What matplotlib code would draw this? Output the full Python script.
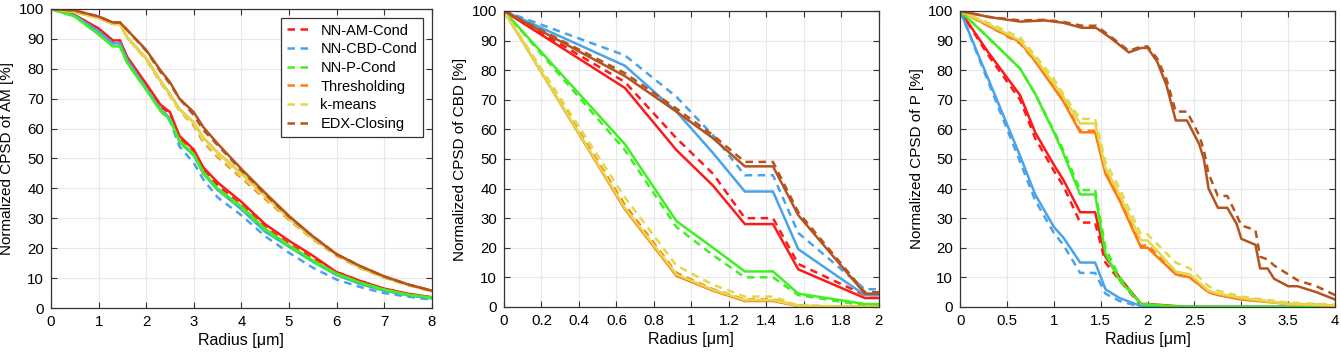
import matplotlib
matplotlib.use("Agg")
import matplotlib.pyplot as plt

plt.rcParams['font.family'] = ['Liberation Sans', 'DejaVu Sans']
plt.rcParams['font.size'] = 10.5

methods = ["NN-AM-Cond", "NN-CBD-Cond", "NN-P-Cond", "Thresholding", "k-means", "EDX-Closing"]
colors = ["#ff1a1a", "#4aa3ea", "#3ff022", "#ff7a12", "#e3d84a", "#b5531f"]

# ---- AM panel ----
am_x = [0, 0.5, 1, 1.3, 1.45, 1.6, 2, 2.3, 2.5, 2.7, 3, 3.2, 3.5, 4, 4.5, 5, 5.5, 6, 6.5, 7, 7.5, 8]
am_solid = [
    [100, 98, 93.5, 89.5, 89.5, 84, 75, 68, 65.5, 57.5, 53, 47, 42, 35.5, 28, 22.5, 17.5, 12, 9, 6.5, 4.8, 3.6],
    [100, 97.8, 92.5, 88.5, 88.5, 83, 73.5, 66.5, 63.5, 55.5, 51, 45, 39.5, 33, 25.5, 20.5, 15.5, 11, 8, 5.8, 4.2, 3.2],
    [100, 97.5, 91.5, 87.5, 87.5, 82, 73, 66, 63, 56, 51.5, 45.5, 40, 34, 26.5, 21, 16, 11.5, 8.5, 6.2, 4.5, 3.5],
    [100, 99, 97, 95, 95, 90.5, 83.5, 76, 71.5, 66.5, 62, 57, 52, 45, 37.5, 30, 23.5, 18, 13.5, 10.3, 7.8, 5.7],
    [100, 99, 97, 95, 95, 90.5, 83.5, 76, 71.5, 66.5, 62, 57, 52, 45, 37.5, 30, 23.5, 18, 13.5, 10.3, 7.8, 5.7],
    [100, 99.5, 97.5, 95.5, 95.5, 93, 86.3, 79.5, 75.5, 70, 65.5, 60.5, 55, 46.5, 38.5, 30.8, 24, 18, 14, 10.6, 7.9, 5.8],
]
am_dashed = [
    [100, 97.8, 93, 89, 89, 83.5, 74.5, 67.5, 65, 57, 52.5, 46, 41, 34.5, 27, 21.5, 16.5, 12, 9, 6.3, 4.6, 3.5],
    [100, 97.8, 92.5, 88.5, 88.5, 83, 73.5, 66, 62.5, 54, 48.5, 43, 37, 31, 24, 18.5, 13.5, 9.5, 7, 5, 3.8, 2.8],
    [100, 97.5, 91.5, 87.5, 87.5, 82, 73, 66, 63, 55.5, 51, 45, 39.5, 33.5, 26, 20.5, 15.5, 11.2, 8.2, 6, 4.4, 3.4],
    [100, 99, 97, 95, 95, 90.5, 83, 75.5, 71, 66, 61, 55.5, 50.5, 43.5, 36.5, 29.5, 23, 17.5, 13.3, 10.2, 7.7, 5.6],
    [100, 99, 97, 95, 95, 90.5, 83, 75.5, 71, 66, 61.5, 56, 51, 44, 37, 29.8, 23.2, 17.8, 13.4, 10.2, 7.7, 5.6],
    [100, 99.5, 97.5, 95.5, 95.5, 93, 86, 79, 75, 70, 64.5, 59.5, 54.5, 46, 38, 30.5, 24, 18, 14, 10.5, 7.9, 5.8],
]

# ---- CBD panel ----
cbd_x = [0, 0.645, 0.92, 1.115, 1.285, 1.435, 1.57, 1.925, 2.0]
cbd_solid = [
    [100, 74, 53, 41, 28, 28, 12.7, 3, 3],
    [100, 81.5, 66, 52, 39, 39, 19.5, 4, 4],
    [100, 55, 29, 20, 12, 12, 4.5, 1, 1],
    [100, 33, 10.5, 5.5, 2, 2, 0.3, 0, 0],
    [100, 33.5, 11, 5.8, 2.3, 2.3, 0.4, 0, 0],
    [100, 78, 66, 57, 47.5, 47.5, 31, 4.5, 4.5],
]
cbd_dashed = [
    [100, 76, 57, 45, 30, 30, 14.5, 4, 4],
    [100, 85, 71, 58, 44.5, 44.5, 25, 6, 6],
    [100, 53, 27, 17.5, 10, 10, 4, 0.5, 0.5],
    [100, 34.5, 11.5, 6, 2.5, 2.5, 0.5, 0, 0],
    [100, 37, 14, 7.5, 3.5, 3.5, 0.5, 0, 0],
    [100, 79, 67, 58, 49, 49, 32, 5, 5],
]

# ---- P panel ----
p_x = [0, 0.3, 0.64, 0.8, 1.0, 1.1, 1.28, 1.44, 1.55, 1.7, 1.93, 2.0, 2.3, 2.45, 2.65, 2.75, 3.0, 3.5, 4.0]
p_solid = [
    [100, 86, 71.5, 59, 48, 43, 32, 32, 17, 10, 1, 1, 0.3, 0, 0, 0, 0, 0, 0],
    [100, 77, 51, 38, 27, 23.5, 15, 15, 6, 3, 0.3, 0, 0, 0, 0, 0, 0, 0, 0],
    [100, 91, 80.5, 72, 59, 52, 38, 38, 18, 9, 1, 0.8, 0.2, 0, 0, 0, 0, 0, 0],
    [100, 95, 89.5, 83, 74, 69.5, 59, 59, 45, 36, 20, 20, 11, 10, 5, 4, 2.5, 1, 0.5],
    [100, 95.5, 90, 84, 75.5, 71, 62, 62, 47, 38, 22.5, 22.5, 12, 11, 5.5, 4.5, 3, 1, 0.5],
]
p_dashed = [
    [100, 85, 70, 57, 46, 41, 28.5, 28.5, 15, 9, 0.5, 0.5, 0, 0, 0, 0, 0, 0, 0],
    [100, 76, 49, 36, 25, 21, 11.5, 11.5, 4.5, 2, 0, 0, 0, 0, 0, 0, 0, 0, 0],
    [100, 91, 80.5, 72, 59.5, 53, 39.5, 39.5, 20, 10, 1, 0.8, 0, 0, 0, 0, 0, 0, 0],
    [100, 95, 89, 83, 74.5, 70, 59.5, 59.5, 46, 37, 20.5, 21, 11, 10, 5, 4.2, 3, 1, 0.5],
    [100, 96, 91, 85, 77, 72, 63.5, 63.5, 49, 40, 24.5, 24.5, 15, 13, 7, 5.5, 3.5, 1.5, 0.8],
]
# EDX-Closing in the P panel has its own radius steps
p_edx_x = [0, 0.3, 0.64, 0.9, 1.1, 1.3, 1.45, 1.6, 1.8, 1.93, 2.0, 2.1, 2.2, 2.3, 2.42, 2.55, 2.6,
           2.65, 2.75, 2.85, 2.95, 3.0, 3.15, 3.2, 3.28, 3.35, 3.5, 3.6, 3.8, 4.0]
p_edx_solid = [100, 98, 96.4, 96.8, 96, 94.3, 94.3, 91, 86, 87.5, 87.5, 83, 75, 63, 63, 55, 50,
               40, 33.5, 33.5, 28, 23, 21, 13, 13, 9.5, 7, 7, 5, 2.5]
p_edx_dashed = [100, 98, 96.8, 97, 96.3, 95, 95, 91.5, 86.5, 88, 88, 84, 77, 66, 66, 58, 53,
                45, 37.5, 37.5, 31, 27.5, 26, 17, 16, 14, 11, 9, 7, 4]

p_x_all = [p_x] * 5 + [p_edx_x]
p_solid.append(p_edx_solid)
p_dashed.append(p_edx_dashed)

panels = [
    ([am_x] * 6, am_solid, am_dashed, 8, range(0, 9), "Normalized CPSD of AM [%]"),
    ([cbd_x] * 6, cbd_solid, cbd_dashed, 2, [0, 0.2, 0.4, 0.6, 0.8, 1, 1.2, 1.4, 1.6, 1.8, 2], "Normalized CPSD of CBD [%]"),
    (p_x_all, p_solid, p_dashed, 4, [0, 0.5, 1, 1.5, 2, 2.5, 3, 3.5, 4], "Normalized CPSD of P [%]"),
]
rects = [
    [0.038, 0.142, 0.284, 0.833],
    [0.3758, 0.145, 0.2796, 0.8245],
    [0.716, 0.145, 0.2796, 0.8245],
]

fig = plt.figure(figsize=(13.41, 3.59), dpi=100)

for k, (xs, solid, dashed, xmax, xticks, ylab) in enumerate(panels):
    ax = fig.add_axes(rects[k])
    for i in range(len(methods)):
        ax.plot(xs[i], solid[i], color=colors[i], lw=1.8)
        ax.plot(xs[i], dashed[i], color=colors[i], lw=1.8, ls=(0, (3.0, 2.2)), label=methods[i])
    ax.set_xlim(0, xmax)
    ax.set_ylim(0, 100)
    ax.set_xticks(list(xticks))
    ax.set_xticklabels([f"{t:g}" for t in xticks])
    ax.set_yticks(range(0, 101, 10))
    ax.grid(True, color="#e8e8e8", lw=0.8)
    ax.set_axisbelow(True)
    ax.tick_params(direction='in', top=True, right=True, length=4, width=0.8,
                   color="#333333", labelsize=10.8, pad=5)
    for s in ax.spines.values():
        s.set_color("#333333")
        s.set_linewidth(0.9)
    ax.set_xlabel("Radius [μm]", fontsize=11.5, labelpad=3)
    ax.set_ylabel(ylab, fontsize=11, labelpad=3)
    if k == 0:
        leg = ax.legend(loc='upper right', fontsize=10.5, fancybox=False, framealpha=1,
                        edgecolor="#333333", borderaxespad=0.6, handlelength=1.5,
                        labelspacing=0.32, borderpad=0.4, handletextpad=0.8)
        leg.get_frame().set_linewidth(0.9)

fig.savefig("out.png", dpi=100)
